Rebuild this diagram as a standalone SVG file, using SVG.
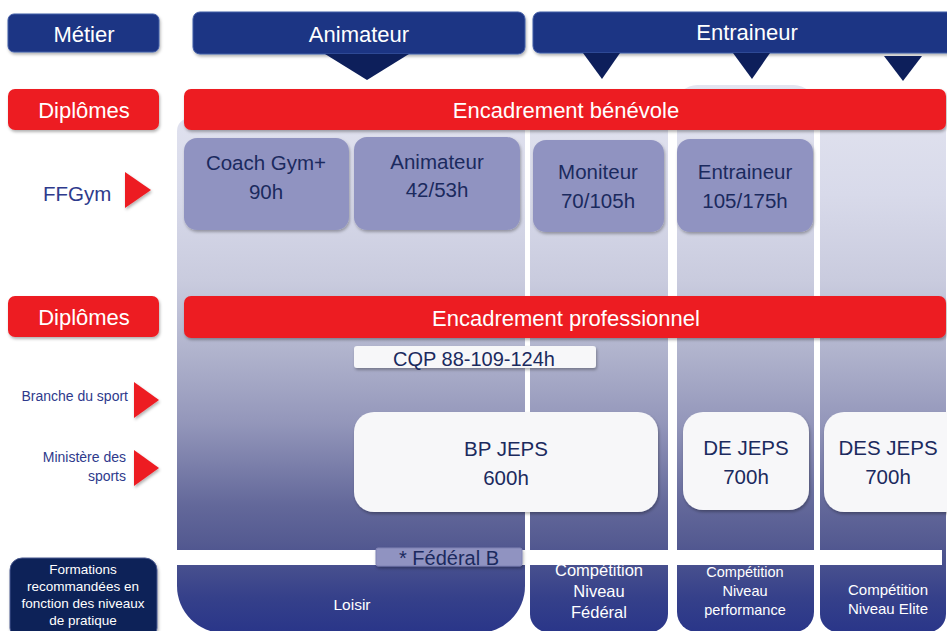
<svg xmlns="http://www.w3.org/2000/svg" width="947" height="631" viewBox="0 0 947 631">
<defs>
<linearGradient id="colGrad" gradientUnits="userSpaceOnUse" x1="0" y1="85" x2="0" y2="631">
<stop offset="0" stop-color="#e3e4f0"/>
<stop offset="0.2" stop-color="#d8daea"/>
<stop offset="0.36" stop-color="#c9cbde"/>
<stop offset="0.48" stop-color="#b2b5ce"/>
<stop offset="0.62" stop-color="#9396ba"/>
<stop offset="0.77" stop-color="#63689a"/>
<stop offset="0.84" stop-color="#545a91"/>
<stop offset="0.94" stop-color="#35408a"/>
<stop offset="1" stop-color="#2a3689"/>
</linearGradient>
<filter id="sh" x="-10%" y="-20%" width="125%" height="150%">
<feDropShadow dx="1" dy="2" stdDeviation="1.5" flood-color="#000" flood-opacity="0.3"/>
</filter>
</defs>
<style>
text{font-family:"Liberation Sans",Arial,sans-serif}
.nav{fill:#1f3584;stroke:#3f5ca6;stroke-width:1}
.red{fill:#ed1c24}
.lav{fill:#9093c1}
.wbox{fill:#f7f7f9}
.col{fill:url(#colGrad)}
.wt{fill:#ffffff}
.dt{fill:#1b2a5e}
.bt{fill:#2e3a8c}
.ptr{fill:#0d1f5b}
.rtri{fill:#ed1c24}
.c{text-anchor:middle}
.r{text-anchor:end}
</style>
<rect width="947" height="631" fill="#ffffff"/>

<g id="columns">
<path class="col" d="M177,131 A13,13 0 0 1 190,118 H512 A13,13 0 0 1 525,131 V586 A47,47 0 0 1 478,633 H224 A47,47 0 0 1 177,586 Z"/>
<rect class="col" x="530" y="100" width="138" height="532" rx="18"/>
<rect class="col" x="677" y="85" width="137" height="547" rx="20"/>
<rect class="col" x="820" y="100" width="126" height="532" rx="18"/>
</g>

<g id="level-labels">
<text class="wt c" x="352" y="610" font-size="15.5">Loisir</text>
<text class="wt c" font-size="16.5"><tspan x="599" y="576">Compétition</tspan><tspan x="599" y="597">Niveau</tspan><tspan x="599" y="618">Fédéral</tspan></text>
<text class="wt c" font-size="14.5"><tspan x="745" y="577">Compétition</tspan><tspan x="745" y="596">Niveau</tspan><tspan x="745" y="615">performance</tspan></text>
<text class="wt c" font-size="15"><tspan x="888" y="595">Compétition</tspan><tspan x="888" y="614">Niveau Elite</tspan></text>
</g>

<rect id="strip" x="170" y="550" width="772" height="15" fill="#ffffff"/>

<g id="metier">
<rect class="nav" x="8" y="14" width="151" height="38" rx="6" filter="url(#sh)"/>
<text class="wt c" x="84" y="42" font-size="22">Métier</text>
</g>
<g id="animateur-metier">
<rect class="nav" x="193" y="12" width="332" height="42" rx="7" filter="url(#sh)"/>
<text class="wt c" x="359" y="42" font-size="22">Animateur</text>
</g>
<g id="entraineur-metier">
<rect class="nav" x="533" y="12" width="430" height="41" rx="7" filter="url(#sh)"/>
<text class="wt c" x="747" y="40" font-size="22">Entraineur</text>
</g>

<g id="connectors">
<polygon class="ptr" points="325,54 409,54 367,80"/>
<polygon class="ptr" points="583,53 620,53 602,79"/>
<polygon class="ptr" points="733,53 770,53 752,79"/>
<polygon class="ptr" points="884,56 922,56 903,81"/>
<polygon class="rtri" points="125,172 151,190 125,208" filter="url(#sh)"/>
<polygon class="rtri" points="134,382 159,400 134,418" filter="url(#sh)"/>
<polygon class="rtri" points="134,450 159,468 134,486" filter="url(#sh)"/>
</g>

<g id="diplomes-1">
<rect class="red" x="8" y="89" width="151" height="41" rx="7" filter="url(#sh)"/>
<text class="wt c" x="84" y="118" font-size="22">Diplômes</text>
</g>
<g id="encadrement-benevole">
<rect class="red" x="184" y="89" width="762" height="41" rx="7" filter="url(#sh)"/>
<text class="wt c" x="566" y="118" font-size="22">Encadrement bénévole</text>
</g>

<g id="ffgym">
<text class="bt" x="43" y="201" font-size="20.5">FFGym</text>
</g>

<g id="coach-gym">
<rect class="lav" x="184" y="138" width="165" height="92" rx="13" filter="url(#sh)"/>
<text class="dt c" font-size="20.5"><tspan x="266" y="170">Coach Gym+</tspan><tspan x="266" y="199">90h</tspan></text>
</g>
<g id="animateur-ffgym">
<rect class="lav" x="354" y="137" width="166" height="93" rx="13" filter="url(#sh)"/>
<text class="dt c" font-size="20.5"><tspan x="437" y="169">Animateur</tspan><tspan x="437" y="197">42/53h</tspan></text>
</g>
<g id="moniteur">
<rect class="lav" x="533" y="140" width="131" height="92" rx="13" filter="url(#sh)"/>
<text class="dt c" font-size="20.5"><tspan x="598" y="179">Moniteur</tspan><tspan x="598" y="208">70/105h</tspan></text>
</g>
<g id="entraineur-ffgym">
<rect class="lav" x="677" y="139" width="136" height="93" rx="13" filter="url(#sh)"/>
<text class="dt c" font-size="20.5"><tspan x="745" y="179">Entraineur</tspan><tspan x="745" y="208">105/175h</tspan></text>
</g>

<g id="diplomes-2">
<rect class="red" x="8" y="296" width="151" height="41" rx="7" filter="url(#sh)"/>
<text class="wt c" x="84" y="325" font-size="22">Diplômes</text>
</g>
<g id="encadrement-professionnel">
<rect class="red" x="184" y="296" width="762" height="42" rx="7" filter="url(#sh)"/>
<text class="wt c" x="566" y="326" font-size="22">Encadrement professionnel</text>
</g>

<g id="branche-du-sport">
<text class="bt r" x="128" y="401" font-size="14">Branche du sport</text>
</g>
<g id="ministere-des-sports">
<text class="bt r" font-size="14"><tspan x="126" y="462">Ministère des</tspan><tspan x="126" y="481">sports</tspan></text>
</g>

<g id="cqp">
<rect class="wbox" x="354" y="346" width="242" height="22" rx="3" filter="url(#sh)"/>
<text class="dt c" x="474" y="366" font-size="20">CQP 88-109-124h</text>
</g>
<g id="bp-jeps">
<rect class="wbox" x="354" y="412" width="304" height="100" rx="20" filter="url(#sh)"/>
<text class="dt c" font-size="20.5"><tspan x="506" y="456">BP JEPS</tspan><tspan x="506" y="485">600h</tspan></text>
</g>
<g id="de-jeps">
<rect class="wbox" x="683" y="412" width="126" height="98" rx="20" filter="url(#sh)"/>
<text class="dt c" font-size="20.5"><tspan x="746" y="455">DE JEPS</tspan><tspan x="746" y="484">700h</tspan></text>
</g>
<g id="des-jeps">
<rect class="wbox" x="824" y="412" width="150" height="100" rx="20" filter="url(#sh)"/>
<text class="dt c" font-size="20.5"><tspan x="888" y="455">DES JEPS</tspan><tspan x="888" y="484">700h</tspan></text>
</g>

<g id="federal-b">
<rect class="lav" x="376" y="548" width="146" height="18" rx="2" stroke="#7f82b4" stroke-width="1" filter="url(#sh)"/>
<text class="dt c" x="449" y="565" font-size="20">* Fédéral B</text>
</g>

<g id="formations">
<rect x="10" y="558" width="147" height="82" rx="12" fill="#0f2259" stroke="#4a5a8f" stroke-width="1" filter="url(#sh)"/>
<text class="wt c" font-size="13.5"><tspan x="83" y="574">Formations</tspan><tspan x="83" y="591">recommandées en</tspan><tspan x="83" y="608">fonction des niveaux</tspan><tspan x="83" y="625">de pratique</tspan></text>
</g>
</svg>
